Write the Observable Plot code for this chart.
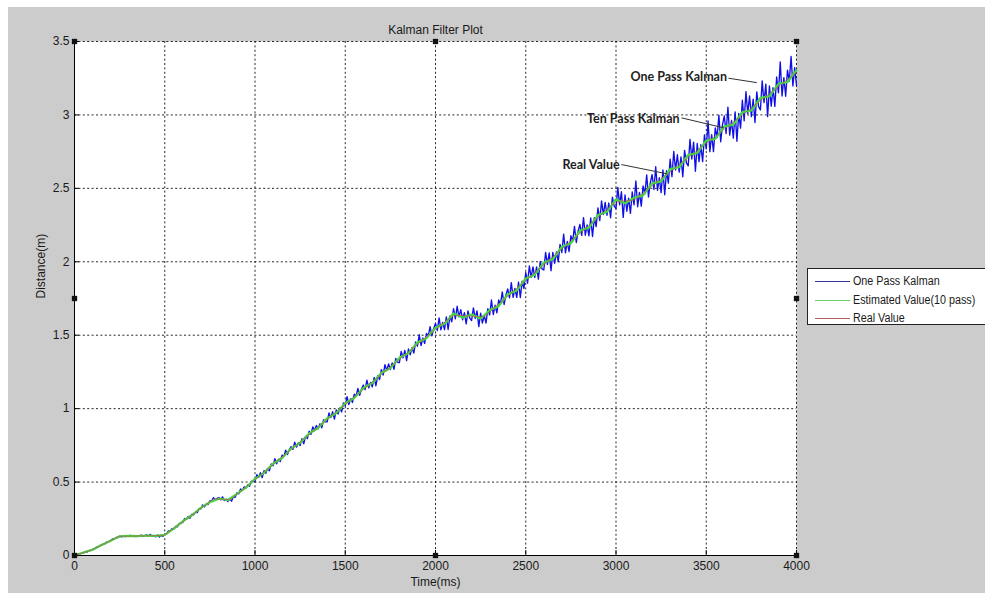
<!DOCTYPE html>
<html>
<head>
<meta charset="utf-8">
<script src="https://cdn.jsdelivr.net/npm/d3@7"></script>
<script src="https://cdn.jsdelivr.net/npm/@observablehq/plot@0.6"></script>
<style>
  html, body { margin: 0; padding: 0; background: #ffffff; overflow: hidden; }
  #wrap { position: relative; width: 985px; height: 593px; overflow: hidden; }
  #fig { position: absolute; left: 8px; top: 7px; width: 977px; height: 586px; background: #cccccc; }
  #chart { position: absolute; left: 0; top: 0; }
  #legend { position: absolute; left: 807px; top: 268px; width: 200px; height: 57px; background: #fff;
            border: 1px solid #222; box-sizing: border-box; font-family: "Liberation Sans", Arial, sans-serif; font-size: 12.5px; color: #1a1a1a; }
  .row { position: absolute; left: 0; height: 18px; line-height: 18px; white-space: nowrap; }
  .sw { position: absolute; left: 7px; top: 9px; width: 35px; height: 0; border-top: 1px solid; }
  .lb { position: absolute; left: 45px; top: 0; transform: scaleX(0.86); transform-origin: 0 50%; }
</style>
</head>
<body>
<div id="wrap">
  <div id="fig"></div>
  <div id="chart"></div>
  <div id="legend"></div>
</div>
<script>
const FONT = '"Liberation Sans", Arial, sans-serif';

const title = "Kalman Filter Plot";
const xLabel = "Time(ms)";
const yLabel = "Distance(m)";

const xTicks = [0, 500, 1000, 1500, 2000, 2500, 3000, 3500, 4000];
const xTickLabels = ["0", "500", "1000", "1500", "2000", "2500", "3000", "3500", "4000"];
const yTicks = [0, 0.5, 1, 1.5, 2, 2.5, 3, 3.5];
const yTickLabels = ["0", "0.5", "1", "1.5", "2", "2.5", "3", "3.5"];

const seriesNames = ["One Pass Kalman", "Estimated Value(10 pass)", "Real Value"];
const seriesColors = ["#1010e6", "#3fdc3f", "#c05555"];
const legendColors = ["#35359a", "#66cc66", "#b06060"];

// One pass Kalman: sampled every 10 ms from 0 to 4000 (20 values per row = 200 ms)
const onePassStep = 10;
const onePassValues = [
  0.000,0.003,0.012,0.010,0.017,0.017,0.026,0.024,0.033,0.034,0.043,0.045,0.056,0.057,0.068,0.069,0.079,0.079,0.092,0.095,
  0.100,0.113,0.113,0.123,0.121,0.131,0.127,0.132,0.128,0.135,0.130,0.138,0.130,0.134,0.129,0.135,0.133,0.139,0.131,0.136,
  0.141,0.132,0.144,0.130,0.136,0.127,0.140,0.126,0.138,0.130,0.147,0.146,0.168,0.166,0.182,0.181,0.198,0.195,0.218,0.220,
  0.225,0.252,0.246,0.266,0.253,0.281,0.276,0.296,0.292,0.319,0.317,0.345,0.331,0.351,0.347,0.372,0.373,0.394,0.379,0.389,
  0.395,0.379,0.399,0.374,0.383,0.368,0.387,0.370,0.400,0.396,0.428,0.420,0.453,0.444,0.467,0.459,0.482,0.472,0.506,0.503,
  0.505,0.551,0.531,0.564,0.530,0.578,0.560,0.593,0.577,0.623,0.611,0.660,0.624,0.656,0.640,0.683,0.677,0.717,0.687,0.720,
  0.742,0.723,0.771,0.738,0.767,0.749,0.796,0.761,0.811,0.796,0.846,0.824,0.876,0.851,0.885,0.863,0.897,0.870,0.924,0.910,
  0.910,0.971,0.939,0.980,0.929,0.992,0.963,1.005,0.978,1.039,1.018,1.082,1.028,1.068,1.042,1.098,1.085,1.137,1.091,1.133,
  1.161,1.129,1.194,1.141,1.179,1.148,1.212,1.156,1.224,1.198,1.266,1.229,1.300,1.259,1.304,1.267,1.312,1.268,1.342,1.316,
  1.314,1.390,1.346,1.396,1.327,1.406,1.366,1.415,1.378,1.454,1.425,1.503,1.430,1.481,1.444,1.512,1.493,1.558,1.496,1.545,
  1.581,1.532,1.618,1.537,1.587,1.538,1.625,1.539,1.631,1.591,1.681,1.612,1.697,1.625,1.674,1.605,1.654,1.577,1.666,1.616,
  1.600,1.686,1.614,1.665,1.559,1.650,1.582,1.635,1.583,1.681,1.638,1.740,1.641,1.704,1.652,1.740,1.712,1.795,1.709,1.773,
  1.815,1.754,1.858,1.758,1.819,1.758,1.862,1.757,1.868,1.818,1.927,1.855,1.971,1.894,1.965,1.893,1.965,1.882,2.002,1.952,
  1.944,2.063,1.983,2.060,1.939,2.064,1.990,2.067,2.000,2.119,2.063,2.188,2.061,2.138,2.070,2.177,2.140,2.241,2.131,2.208,
  2.254,2.180,2.301,2.181,2.251,2.177,2.298,2.172,2.301,2.240,2.367,2.280,2.415,2.322,2.404,2.317,2.400,2.300,2.440,2.379,
  2.362,2.507,2.388,2.477,2.302,2.455,2.344,2.433,2.330,2.475,2.388,2.550,2.375,2.473,2.379,2.516,2.462,2.592,2.441,2.539,
  2.594,2.492,2.647,2.486,2.572,2.471,2.626,2.456,2.620,2.536,2.698,2.580,2.752,2.625,2.729,2.611,2.714,2.579,2.759,2.674,
  2.653,2.834,2.700,2.815,2.616,2.806,2.682,2.797,2.682,2.864,2.769,2.959,2.750,2.865,2.750,2.912,2.846,2.998,2.817,2.932,
  2.993,2.873,3.053,2.862,2.962,2.842,3.021,2.821,3.011,2.910,3.100,2.960,3.159,3.009,3.129,2.988,3.108,2.948,3.157,3.057,
  3.034,3.232,3.084,3.210,2.988,3.198,3.060,3.185,3.058,3.258,3.151,3.361,3.129,3.254,3.127,3.305,3.230,3.398,3.197,3.322,
  3.200
];

// Ten pass estimate: sampled every 50 ms
const tenPassStep = 50;
const tenPassValues = [
  0.000,0.021,0.039,0.072,0.101,0.131,0.133,0.132,0.136,0.134,
  0.141,0.183,0.233,0.274,0.324,0.363,0.387,0.378,0.420,0.462,
  0.522,0.563,0.625,0.664,0.728,0.767,0.831,0.868,0.934,0.970,
  1.037,1.072,1.141,1.174,1.243,1.276,1.346,1.378,1.450,1.480,
  1.551,1.578,1.648,1.620,1.641,1.614,1.670,1.699,1.778,1.805,
  1.886,1.912,1.994,2.019,2.102,2.126,2.211,2.233,2.318,2.340,
  2.426,2.399,2.436,2.452,2.534,2.548,2.631,2.645,2.728,2.741,
  2.826,2.837,2.922,2.934,3.019,3.030,3.116,3.127,3.212,3.224,
  3.305
];

// Real value: breakpoints
const realTimes  = [0, 100, 245, 260, 495, 772, 864, 993, 1500, 2000, 2100, 2270, 2360, 2700, 3000, 3100, 3300, 3600, 4000];
const realValues = [0, 0.04, 0.13, 0.131, 0.136, 0.386, 0.38, 0.51, 1.029, 1.54, 1.636, 1.625, 1.722, 2.087, 2.41, 2.42, 2.613, 2.903, 3.29];

// Annotations (text end point and arrow end point, in data units)
const annoLabels = ["One Pass Kalman", "Ten Pass Kalman", "Real Value"];
const annoTextT  = [3615, 3352, 3020];
const annoTextV  = [3.255, 2.969, 2.656];
const annoFromT  = [3623, 3363, 3030];
const annoFromV  = [3.250, 2.980, 2.662];
const annoToT    = [3780, 3597, 3283];
const annoToV    = [3.220, 2.912, 2.599];

// edit handles of the selected axes
const handleT = [0, 2000, 4000, 0, 4000, 0, 2000, 4000];
const handleV = [3.5, 3.5, 3.5, 1.75, 1.75, 0, 0, 0];

const onePass = onePassValues.map((v, i) => ({t: i * onePassStep, v}));
const tenPass = tenPassValues.map((v, i) => ({t: i * tenPassStep, v}));
const real = realTimes.map((t, i) => ({t, v: realValues[i]}));
const annos = annoLabels.map((label, i) => ({label, t: annoTextT[i], v: annoTextV[i],
  t1: annoFromT[i], v1: annoFromV[i], t2: annoToT[i], v2: annoToV[i]}));
const handles = handleT.map((t, i) => ({t, v: handleV[i]}));

const W = 985, H = 593;
const mL = 74, mR = 189, mT = 41, mB = 38;
const innerW = W - mL - mR, innerH = H - mT - mB;

const chart = Plot.plot({
  width: W, height: H,
  marginLeft: mL, marginRight: mR, marginTop: mT, marginBottom: mB,
  x: {domain: [0, 4000]},
  y: {domain: [0, 3.5]},
  style: {background: "transparent", fontFamily: FONT, fontSize: "12px", color: "#1a1a1a", overflow: "visible"},
  marks: [
    Plot.frame({fill: "#ffffff", stroke: null}),
    Plot.gridX(xTicks, {stroke: "#000", strokeOpacity: 0.85, strokeDasharray: "2,2.4"}),
    Plot.gridY(yTicks, {stroke: "#000", strokeOpacity: 0.85, strokeDasharray: "2,2.4"}),
    Plot.tickX(xTicks, {x: d => d, stroke: "#000", insetTop: innerH - 5}),
    Plot.tickY(yTicks, {y: d => d, stroke: "#000", insetRight: innerW - 5}),
    Plot.line(onePass, {x: "t", y: "v", stroke: seriesColors[0], strokeWidth: 1.35}),
    Plot.line(tenPass, {x: "t", y: "v", stroke: seriesColors[1], strokeWidth: 2.2}),
    Plot.line(real, {x: "t", y: "v", stroke: seriesColors[2], strokeWidth: 1, strokeOpacity: 0.7}),
    Plot.ruleX([0], {stroke: "#000", strokeWidth: 1}),
    Plot.ruleY([0], {stroke: "#000", strokeWidth: 1}),
    Plot.axisX(xTicks, {tickSize: 0, tickPadding: 6, label: null,
      tickFormat: d => xTickLabels[xTicks.indexOf(d)]}),
    Plot.axisY(yTicks, {tickSize: 0, tickPadding: 5, label: null,
      tickFormat: d => yTickLabels[yTicks.indexOf(d)]}),
    Plot.text([xLabel], {frameAnchor: "bottom", dy: 22, lineAnchor: "top", fontSize: 12}),
    Plot.text([yLabel], {frameAnchor: "left", dx: -33, rotate: -90, fontSize: 12}),
    Plot.text([title], {frameAnchor: "top", dy: -8, lineAnchor: "bottom", fontSize: 12}),
    Plot.link(annos, {x1: "t1", y1: "v1", x2: "t2", y2: "v2", stroke: "#333", strokeWidth: 1}),
    Plot.text(annos, {x: "t", y: "v", text: "label", textAnchor: "end", fontFamily: "Lato, 'Open Sans', sans-serif",
      fontWeight: "bold", fontSize: 12.5, fill: "#1e1e1e"}),
    Plot.dot(handles, {x: "t", y: "v", symbol: "square", r: 3, fill: "#111", stroke: null})
  ]
});
document.getElementById("chart").appendChild(chart);

const legend = document.getElementById("legend");
seriesNames.forEach((name, i) => {
  const row = document.createElement("div");
  row.className = "row";
  row.style.top = (3 + i * 18.5) + "px";
  const sw = document.createElement("div");
  sw.className = "sw";
  sw.style.borderTopColor = legendColors[i];
  const lb = document.createElement("div");
  lb.className = "lb";
  lb.textContent = name;
  row.appendChild(sw);
  row.appendChild(lb);
  legend.appendChild(row);
});
</script>
</body>
</html>
